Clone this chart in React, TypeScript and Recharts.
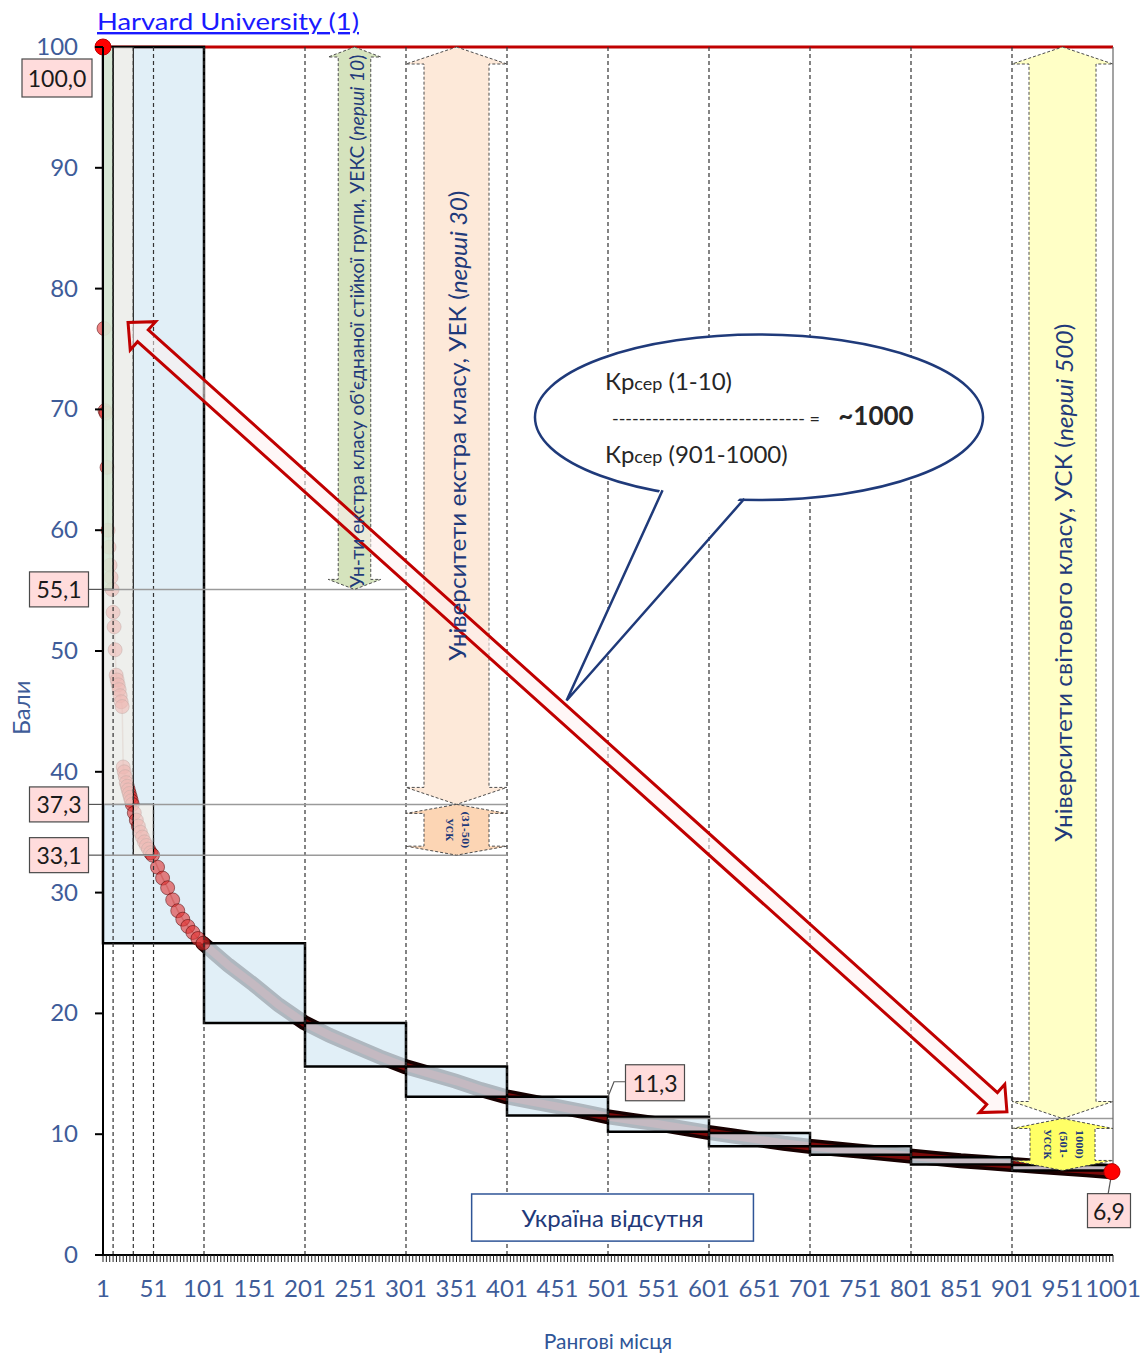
import React from "react";
import {
  ComposedChart,
  Line,
  Scatter,
  XAxis,
  YAxis,
  ReferenceArea,
  ReferenceLine,
  ReferenceDot,
} from "recharts";

const FONT = "Lato, 'Open Sans', sans-serif";
const AXIS_BLUE = "#3e5c99";
const NAVY = "#1f3a7a";

// places 1-100: separate markers
const headRanks = [
  1, 2, 3, 4, 5, 6, 7, 8, 9, 10, 11, 12, 13, 14, 15, 16, 17, 18, 19, 20, 21,
  22, 23, 24, 25, 26, 27, 28, 29, 30, 32, 34, 36, 38, 40, 42, 44, 46, 48, 50,
  55, 60, 65, 70, 75, 80, 85, 90, 95, 100,
];
const headScores = [
  100, 76.7, 69.9, 69.7, 65.2, 60.0, 58.6, 57.1, 56.1, 55.1, 53.2, 52.0, 50.1,
  48.0, 47.6, 47.2, 46.8, 46.3, 45.8, 45.4, 40.4, 40.0, 39.6, 39.1, 38.8, 38.5,
  38.2, 37.9, 37.6, 37.3, 36.6, 36.0, 35.5, 35.0, 34.6, 34.2, 33.9, 33.6, 33.3,
  33.1, 32.1, 31.2, 30.4, 29.4, 28.5, 27.8, 27.2, 26.7, 26.2, 25.8,
];

// places 100-1000: dense band, read every 25 places
const tailRanks = [
  100, 125, 150, 175, 200, 225, 250, 275, 300, 325, 350, 375, 400, 425, 450,
  475, 500, 525, 550, 575, 600, 625, 650, 675, 700, 725, 750, 775, 800, 825,
  850, 875, 900, 925, 950, 975, 1000,
];
const tailScores = [
  25.8, 24.0, 22.4, 20.7, 19.25, 18.2, 17.3, 16.4, 15.6, 15.0, 14.4, 13.7,
  13.1, 12.7, 12.3, 11.9, 11.45, 11.15, 10.85, 10.5, 10.15, 9.85, 9.55, 9.25,
  9.0, 8.8, 8.6, 8.4, 8.2, 8.0, 7.8, 7.65, 7.5, 7.35, 7.2, 7.05, 6.9,
];

const xTickLabels = [
  1, 51, 101, 151, 201, 251, 301, 351, 401, 451, 501, 551, 601, 651, 701, 751,
  801, 851, 901, 951, 1001,
];
const yTickLabels = [0, 10, 20, 30, 40, 50, 60, 70, 80, 90, 100];

// boxes for each hundred places
const groupStart = [1, 101, 201, 301, 401, 501, 601, 701, 801, 901];
const groupEnd = [101, 201, 301, 401, 501, 601, 701, 801, 901, 1001];
const groupTop = [100, 25.8, 19.2, 15.6, 13.1, 11.45, 10.1, 9.0, 8.1, 7.45];
const groupBottom = [25.8, 19.2, 15.6, 13.1, 11.55, 10.2, 9.0, 8.3, 7.5, 7.0];

const dashedRanks = [11, 31, 51, 101, 201, 301, 401, 501, 601, 701, 801, 901];

const leftMarkScores = [55.1, 37.3, 33.1];
const leftMarkTexts = ["55,1", "37,3", "33,1"];

const headData = headRanks.map((rank, i) => ({ rank, score: headScores[i] }));
const tailData = tailRanks.map((rank, i) => ({ rank, score: tailScores[i] }));

// minor tick comb on the x axis (unlabelled)
const xTicks: number[] = [];
for (let i = 0; i <= 300; i++) xTicks.push(1 + (i * 50) / 15);

type Box = { x: number; y: number; width: number; height: number };

// data -> pixel inside the box recharts hands to a ReferenceArea shape
function mapper(b: Box, x1: number, x2: number, y1: number, y2: number) {
  return {
    px: (v: number) => b.x + ((v - x1) / (x2 - x1)) * b.width,
    py: (v: number) => b.y + ((y2 - v) / (y2 - y1)) * b.height,
  };
}

function area(
  key: string,
  x1: number,
  x2: number,
  y1: number,
  y2: number,
  z: number,
  draw: (m: ReturnType<typeof mapper>, b: Box) => React.ReactNode
) {
  return (
    <ReferenceArea
      key={key}
      x1={x1}
      x2={x2}
      y1={y1}
      y2={y2}
      zIndex={z}
      shape={(p: any) => <g>{draw(mapper(p, x1, x2, y1, y2), p)}</g>}
    />
  );
}

function vArrow(b: Box, inset: number, head: number, fill: string) {
  const { x, y, width: w, height: h } = b;
  const cx = x + w / 2;
  const l = x + inset;
  const r = x + w - inset;
  const pts = [
    [cx, y], [x + w, y + head], [r, y + head], [r, y + h - head],
    [x + w, y + h - head], [cx, y + h], [x, y + h - head], [l, y + h - head],
    [l, y + head], [x, y + head],
  ];
  return (
    <polygon
      points={pts.map((p) => p.join(",")).join(" ")}
      fill={fill}
      stroke="#4d4d4d"
      strokeWidth={1}
      strokeDasharray="3 2"
    />
  );
}

function vText(cx: number, cy: number, size: number, len: number, main: string, ital: string) {
  return (
    <text
      transform={`translate(${cx},${cy}) rotate(-90)`}
      textAnchor="middle"
      dominantBaseline="central"
      fontSize={size}
      fill={NAVY}
      fontFamily={FONT}
      textLength={len}
      lengthAdjust="spacingAndGlyphs"
    >
      {main}
      <tspan fontStyle="italic">{ital}</tspan>)
    </text>
  );
}

function smallText(cx: number, cy: number, lines: string[]) {
  return (
    <g transform={`translate(${cx},${cy}) rotate(90)`}>
      {lines.map((t, i) => (
        <text
          key={i}
          x={0}
          y={(i - (lines.length - 1) / 2) * -16}
          textAnchor="middle"
          dominantBaseline="central"
          fontSize={9}
          fontWeight="bold"
          fill={NAVY}
          fontFamily="'DejaVu Serif', serif"
        >
          {t}
        </text>
      ))}
    </g>
  );
}

function doubleArrow(x1: number, y1: number, x2: number, y2: number) {
  const dx = x2 - x1;
  const dy = y2 - y1;
  const L = Math.hypot(dx, dy);
  const ux = dx / L;
  const uy = dy / L;
  const nx = -uy;
  const ny = ux;
  const s = 8;
  const hw = 19;
  const hl = 20;
  const P = (u: number, v: number) => `${x1 + ux * u + nx * v},${y1 + uy * u + ny * v}`;
  const pts = [
    P(0, 0), P(hl, hw), P(hl, s), P(L - hl, s), P(L - hl, hw), P(L, 0),
    P(L - hl, -hw), P(L - hl, -s), P(hl, -s), P(hl, -hw),
  ];
  return (
    <polygon
      points={pts.join(" ")}
      fill="#fff0f0"
      fillOpacity={0.55}
      stroke="#c00000"
      strokeWidth={3}
    />
  );
}

function markBox(cx: number, cy: number, w: number, h: number, text: string) {
  return (
    <g>
      <rect x={cx - w / 2} y={cy - h / 2} width={w} height={h} fill="#ffdcdc" stroke="#4a4a4a" strokeWidth={1.2} />
      <text x={cx} y={cy} textAnchor="middle" dominantBaseline="central" fontSize={23} fill="#1a1a1a" fontFamily={FONT}>
        {text}
      </text>
    </g>
  );
}

const XTick = (p: any) => {
  const v = p.payload.value;
  const r = Math.round(v);
  if (Math.abs(v - r) > 1e-6 || !xTickLabels.includes(r)) return <g />;
  return (
    <text x={p.x} y={p.y} dy={33} textAnchor="middle" fontSize={24} fill={AXIS_BLUE} fontFamily={FONT}>
      {r}
    </text>
  );
};

const YTick = (p: any) => (
  <text x={p.x} y={p.y} dy={8} textAnchor="end" fontSize={24} fill={AXIS_BLUE} fontFamily={FONT}>
    {p.payload.value}
  </text>
);

const HeadDot = (p: any) => (
  <circle cx={p.cx} cy={p.cy} r={7} fill="#e03030" fillOpacity={0.6} stroke="#4a0000" strokeOpacity={0.5} strokeWidth={1} />
);

export default function App() {
  return (
    <div style={{ position: "absolute", left: 0, top: 0, width: 1143, height: 1354, background: "#fff" }}>
      <ComposedChart width={1143} height={1354} margin={{ top: 47, right: 30, bottom: 39, left: 0 }}>
        <XAxis
          type="number"
          dataKey="rank"
          domain={[1, 1001]}
          ticks={xTicks}
          interval={0}
          tick={(p: any) => <XTick {...p} />}
          tickSize={7}
          tickMargin={2}
          tickLine={{ stroke: "#222", strokeWidth: 1 }}
          axisLine={{ stroke: "#000", strokeWidth: 2 }}
          height={60}
          label={{
            content: (p: any) => {
              const vb = p.viewBox;
              return (
                <text x={vb.x + vb.width / 2} y={vb.y + 94} textAnchor="middle" fontSize={21} fill="#2f5597" fontFamily={FONT}>
                  Рангові місця
                </text>
              );
            },
          }}
        />
        <YAxis
          type="number"
          dataKey="score"
          domain={[0, 100]}
          ticks={yTickLabels}
          interval={0}
          width={103}
          tick={(p: any) => <YTick {...p} />}
          tickSize={8}
          tickMargin={17}
          tickLine={{ stroke: "#000", strokeWidth: 2 }}
          axisLine={{ stroke: "#000", strokeWidth: 2 }}
          label={{
            content: (p: any) => {
              const vb = p.viewBox;
              const cy = vb.y + vb.height * (1 - 45.3 / 100);
              return (
                <text transform={`translate(20,${cy}) rotate(-90)`} textAnchor="middle" dominantBaseline="central" fontSize={24} fill={AXIS_BLUE} fontFamily={FONT}>
                  Бали
                </text>
              );
            },
          }}
        />

        {/* score curve: dense tail under the boxes */}
        <Line data={tailData} dataKey="score" stroke="#170000" strokeWidth={15} strokeLinecap="round" dot={false} activeDot={false} isAnimationActive={false} zIndex={401} />
        <Line data={tailData} dataKey="score" stroke="#7a0909" strokeWidth={8} strokeLinecap="round" dot={false} activeDot={false} isAnimationActive={false} zIndex={402} />

        <ReferenceLine y={100} stroke="#c00000" strokeWidth={3} zIndex={405} />

        {/* boxes per hundred places */}
        {groupStart.map((s, i) => (
          <ReferenceArea
            key={"g" + i}
            x1={s}
            x2={groupEnd[i]}
            y1={groupBottom[i]}
            y2={groupTop[i]}
            fill="#d9eaf5"
            fillOpacity={0.78}
            stroke="#000"
            strokeWidth={2.5}
            zIndex={410}
          />
        ))}

        {/* first hundred places, individual markers */}
        <Line data={headData} dataKey="score" stroke="#c4b8b8" strokeWidth={1.5} dot={false} activeDot={false} isAnimationActive={false} zIndex={411} />
        <Scatter data={headData} dataKey="score" shape={(p: any) => <HeadDot {...p} />} isAnimationActive={false} zIndex={412} />

        <ReferenceArea x1={1} x2={31} y1={37.3} y2={100} fill="#f2eee7" fillOpacity={0.72} stroke="#000" strokeWidth={1} zIndex={413} />
        <ReferenceArea x1={31} x2={51} y1={33.1} y2={37.3} fill="#f2eee7" fillOpacity={0.72} stroke="#000" strokeWidth={1.2} zIndex={413} />
        <ReferenceArea x1={1} x2={11} y1={55.1} y2={100} fill="#cfe4cd" fillOpacity={0.75} stroke="#000" strokeWidth={1.5} zIndex={414} />

        {dashedRanks.map((r) => (
          <ReferenceLine key={"d" + r} x={r} stroke="#333" strokeWidth={1.2} strokeDasharray="4 3" zIndex={420} />
        ))}
        <ReferenceLine segment={[{ x: 1, y: 55.1 }, { x: 301, y: 55.1 }]} stroke="#9a9a9a" strokeWidth={1.5} zIndex={421} />
        <ReferenceLine segment={[{ x: 1, y: 37.3 }, { x: 401, y: 37.3 }]} stroke="#9a9a9a" strokeWidth={1.5} zIndex={421} />
        <ReferenceLine segment={[{ x: 1, y: 33.1 }, { x: 401, y: 33.1 }]} stroke="#9a9a9a" strokeWidth={1.5} zIndex={421} />
        <ReferenceLine segment={[{ x: 501, y: 11.3 }, { x: 1001, y: 11.3 }]} stroke="#9a9a9a" strokeWidth={1.5} zIndex={421} />
        <ReferenceLine segment={[{ x: 1001, y: 6.9 }, { x: 1001, y: 100 }]} stroke="#666" strokeWidth={1.2} zIndex={421} />

        {/* group arrows: bodies, then the diagonal arrow, then their texts */}
        {area("greenArrow", 224, 276, 55.1, 100, 430, (m, b) => vArrow(b, 10, 10, "#d5e3bd"))}
        {area("orangeArrow", 301, 401, 37.3, 100, 430, (m, b) => vArrow(b, 18, 17, "#fde9d9"))}
        {area("orangeSmall", 301, 401, 33.1, 37.3, 430, (m, b) => vArrow(b, 18, 9, "#fcd5b4"))}
        {area("yellowArrow", 901, 1001, 11.3, 100, 430, (m, b) => vArrow(b, 17, 17, "#ffffc6"))}
        {area("yellowSmall", 901, 1001, 7.0, 11.3, 430, (m, b) => vArrow(b, 18, 10, "#ffff66"))}

        {area("diag", 25.8, 896, 11.85, 77.2, 440, (m, b) => doubleArrow(b.x, b.y, b.x + b.width, b.y + b.height))}

        {area("greenText", 224, 276, 55.1, 100, 450, (m, b) =>
          vText(b.x + b.width / 2 + 2, b.y + b.height / 2 + 3, 19, 533, "Ун-ти екстра класу об'єднаної стійкої групи, УЕКС (", "перші 10")
        )}
        {area("orangeText", 301, 401, 37.3, 100, 450, (m, b) =>
          vText(b.x + b.width / 2, b.y + b.height / 2, 24, 470, "Університети екстра класу, УЕК (", "перші 30")
        )}
        {area("orangeSmallText", 301, 401, 33.1, 37.3, 450, (m, b) =>
          smallText(b.x + b.width / 2, b.y + b.height / 2, ["УСК", "(31-50)"])
        )}
        {area("yellowText", 901, 1001, 11.3, 100, 450, (m, b) =>
          vText(b.x + b.width / 2, b.y + b.height / 2, 24, 518, "Університети світового класу, УСК (", "перші 500")
        )}
        {area("yellowSmallText", 901, 1001, 7.0, 11.3, 450, (m, b) =>
          smallText(b.x + b.width / 2, b.y + b.height / 2, ["УССК", "(501-", "1000)"])
        )}

        {/* callout */}
        {area("callout", 428.7, 872.3, 45.9, 76.2, 470, (m) => {
          const cx = m.px(650.5);
          const cy = m.py(69.35);
          const rx = (m.px(872.3) - m.px(428.7)) / 2;
          const ry = m.py(62.5) - cy;
          const a = [m.px(555), m.py(63.3)];
          const t = [m.px(460), m.py(45.9)];
          const c = [m.px(636), m.py(62.6)];
          return (
            <g fontFamily={FONT} fill="#262626">
              <ellipse cx={cx} cy={cy} rx={rx} ry={ry} fill="#fff" stroke="#1f3a7a" strokeWidth={2.5} />
              <polygon points={`${a[0]},${a[1] - 6} ${t[0]},${t[1]} ${c[0]},${c[1] - 6}`} fill="#fff" />
              <polyline points={`${a[0]},${a[1]} ${t[0]},${t[1]} ${c[0]},${c[1]}`} fill="none" stroke="#1f3a7a" strokeWidth={2.5} />
              <text x={m.px(498)} y={m.py(71.6)}>
                <tspan fontSize={24}>Кр</tspan>
                <tspan fontSize={18}>сер</tspan>
                <tspan fontSize={24}> (1-10)</tspan>
              </text>
              <text x={m.px(505)} y={m.py(68.7)} fontSize={18} textLength={208} lengthAdjust="spacing">
                ----------------------------- =
              </text>
              <text x={m.px(729)} y={m.py(68.7)} fontSize={26} fontWeight="bold">
                ~1000
              </text>
              <text x={m.px(498)} y={m.py(65.6)}>
                <tspan fontSize={24}>Кр</tspan>
                <tspan fontSize={18}>сер</tspan>
                <tspan fontSize={24}> (901-1000)</tspan>
              </text>
            </g>
          );
        })}

        {area("ukraine", 366, 645, 1.15, 5.05, 470, (m, b) => (
          <g>
            <rect x={b.x} y={b.y} width={b.width} height={b.height} fill="#fff" stroke="#2f5597" strokeWidth={1.5} />
            <text x={b.x + b.width / 2} y={b.y + b.height / 2} textAnchor="middle" dominantBaseline="central" fontSize={24} fill={NAVY} fontFamily={FONT}>
              Україна відсутня
            </text>
          </g>
        ))}

        {/* value marks */}
        {leftMarkScores.map((v, i) => (
          <ReferenceDot
            key={"m" + i}
            x={1}
            y={v}
            zIndex={480}
            shape={(p: any) => (
              <g>
                <line x1={p.cx - 14} y1={p.cy} x2={p.cx} y2={p.cy} stroke="#555" strokeWidth={1.2} />
                {markBox(p.cx - 44, p.cy, 59, 35, leftMarkTexts[i])}
              </g>
            )}
          />
        ))}
        <ReferenceDot
          x={501}
          y={13.1}
          zIndex={480}
          shape={(p: any) => (
            <g>
              <polyline points={`${p.cx},${p.cy} ${p.cx + 6},${p.cy - 15} ${p.cx + 17},${p.cy - 15}`} fill="none" stroke="#555" strokeWidth={1.2} />
              {markBox(p.cx + 47, p.cy - 14, 59, 36, "11,3")}
            </g>
          )}
        />
        <ReferenceDot
          x={1000}
          y={6.9}
          zIndex={490}
          shape={(p: any) => (
            <g>
              <line x1={p.cx} y1={p.cy} x2={p.cx - 4} y2={p.cy + 23} stroke="#555" strokeWidth={1.2} />
              {markBox(p.cx - 3, p.cy + 39, 43, 34, "6,9")}
              <circle cx={p.cx} cy={p.cy} r={8} fill="#ff0000" stroke="#c00000" strokeWidth={1} />
            </g>
          )}
        />
        <ReferenceDot
          x={1}
          y={100}
          zIndex={490}
          shape={(p: any) => (
            <g>
              <circle cx={p.cx} cy={p.cy} r={8} fill="#ff0000" stroke="#c00000" strokeWidth={1} />
              {markBox(p.cx - 46, p.cy + 31, 70, 38, "100,0")}
              <text x={p.cx - 6} y={p.cy - 17} fontSize={24} fill="#1a1aff" fontFamily={FONT} textDecoration="underline" textLength={262} lengthAdjust="spacingAndGlyphs">
                Harvard University (1)
              </text>
            </g>
          )}
        />
      </ComposedChart>
    </div>
  );
}
